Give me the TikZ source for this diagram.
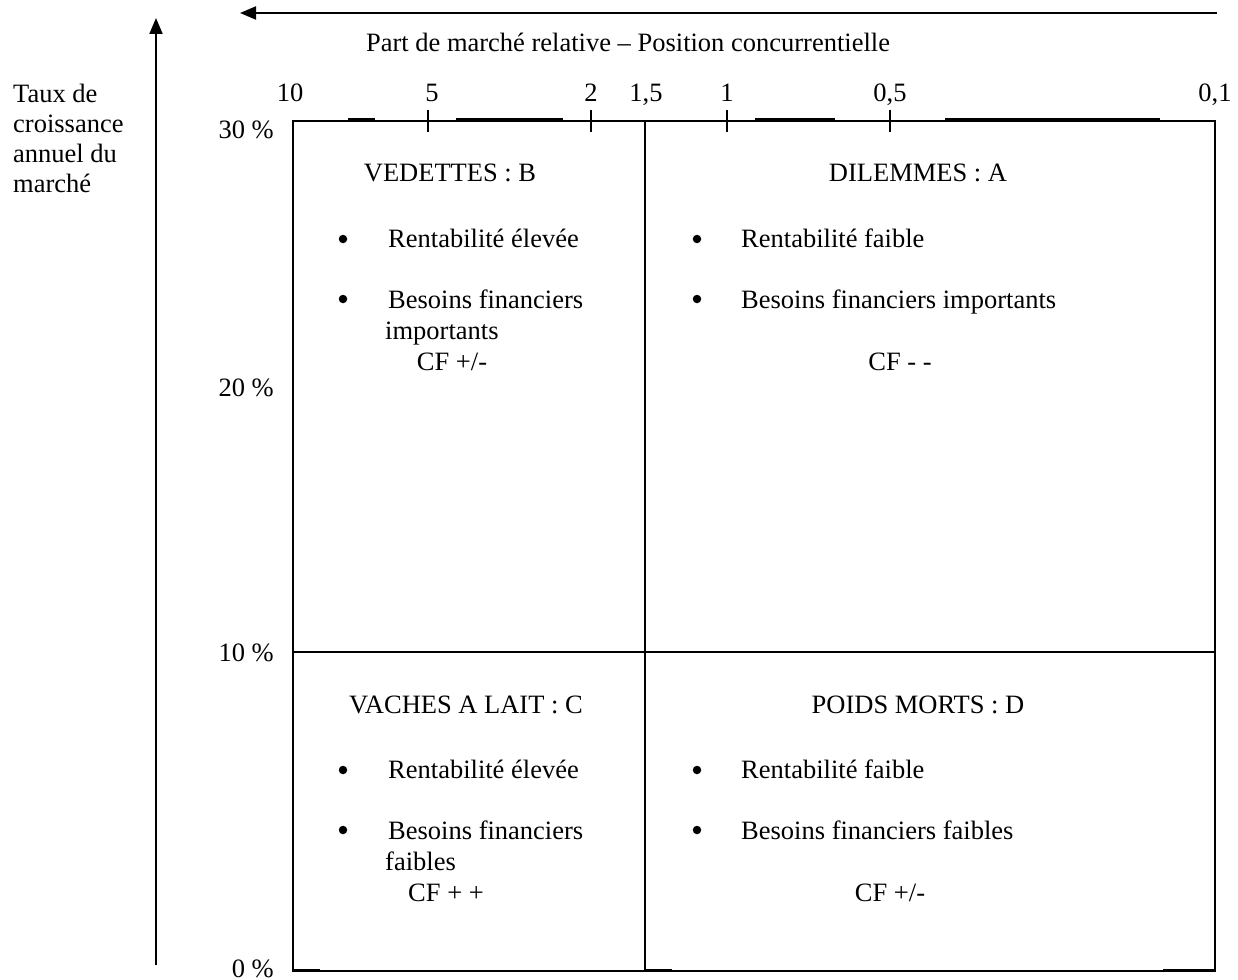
\documentclass[tikz,border=0pt]{standalone}
\usepackage{fontspec}
\setmainfont{Liberation Serif}
\usetikzlibrary{arrows.meta}
\begin{document}
\begin{tikzpicture}[x=1pt,y=-1pt,
  every node/.style={font=\fontsize{26.5}{30}\selectfont, inner sep=0pt},
  frame/.style={line width=1.3pt},
  divider/.style={line width=2pt},
  axisline/.style={line width=2pt, -{Triangle[length=16pt,width=13pt]}},
  tickmark/.style={line width=1.5pt},
  rule/.style={line width=2.2pt},
  txt/.style={anchor=base west},
  head/.style={anchor=base},
  dot/.style={circle, fill=black, minimum size=8.5pt}]
\useasboundingbox (0,0) rectangle (1238,979);

% axes
\coordinate (hxs) at (1217,13);
\coordinate (hxe) at (240,13);
\coordinate (vys) at (156,965);
\coordinate (vye) at (156,18);
\draw[axisline] (hxs) -- (hxe);
\draw[axisline] (vys) -- (vye);

\node[head] (xtitle) at (628,52) {Part de marché relative -- Position concurrentielle};
\node[anchor=north west, align=left] (ytitle) at (13,84) {Taux de\\croissance\\annuel du\\marché};

% matrix frame
\coordinate (tl) at (293,121);
\coordinate (tr) at (1215,121);
\coordinate (bl) at (293,971);
\coordinate (br) at (1215,971);
\coordinate (ml) at (293,652);
\coordinate (mr) at (1215,652);
\coordinate (mt) at (645,121);
\coordinate (mb) at (645,971);
\draw[frame] (tl) rectangle (br);
\draw[divider] (ml) -- (mr);
\draw[divider] (mt) -- (mb);

% heavier rule pieces along the edges
\foreach \a/\b in {348/375, 456/563, 755/835, 945/1160}
  \draw[rule] (\a,119.5) -- (\b,119.5);
\foreach \a/\b in {293/320, 646/672, 1163/1215}
  \draw[rule] (\a,970) -- (\b,970);

% ticks on the top scale
\foreach \x in {428, 591, 727, 890}
  \draw[tickmark] (\x,110) -- (\x,132);

% scale values
\foreach \x/\t in {290/10, 432/5, 591/2, 646/{1,5}, 727/1, 890/{0,5}, 1215/{0,1}}
  \node[head] at (\x,102) {\t};
\foreach \y/\t in {130/30, 387/20, 652/10, 968/0}
  \node[anchor=base east] at (274,\y+9) {\t\ \%};

% quadrant: VEDETTES
\node[head] (qb) at (450,181) {VEDETTES : B};
\node[dot] (b1) at (343,239) {};
\node[txt] at (388,247) {Rentabilité élevée};
\node[dot] (b2) at (343,299) {};
\node[txt] at (388,308) {Besoins financiers};
\node[txt] at (385,339) {importants};
\node[head] at (452,370) {CF +/-};

% quadrant: DILEMMES
\node[head] (qa) at (918,181) {DILEMMES : A};
\node[dot] (a1) at (697,239) {};
\node[txt] at (741,247) {Rentabilité faible};
\node[dot] (a2) at (697,299) {};
\node[txt] at (741,308) {Besoins financiers importants};
\node[head] at (900,370) {CF - -};

% quadrant: VACHES A LAIT
\node[head] (qc) at (466,713) {VACHES A LAIT : C};
\node[dot] (c1) at (343,770) {};
\node[txt] at (388,778) {Rentabilité élevée};
\node[dot] (c2) at (343,830) {};
\node[txt] at (388,839) {Besoins financiers};
\node[txt] at (385,870) {faibles};
\node[head] at (446,901) {CF + +};

% quadrant: POIDS MORTS
\node[head] (qd) at (918,713) {POIDS MORTS : D};
\node[dot] (d1) at (697,770) {};
\node[txt] at (741,778) {Rentabilité faible};
\node[dot] (d2) at (697,830) {};
\node[txt] at (741,839) {Besoins financiers faibles};
\node[head] at (890,901) {CF +/-};
\end{tikzpicture}
\end{document}
